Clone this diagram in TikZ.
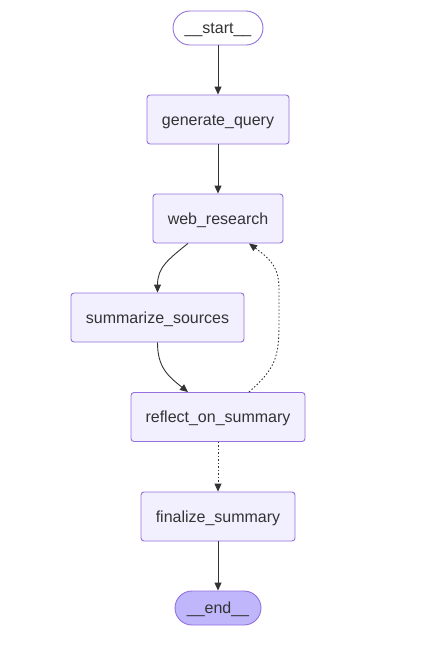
\documentclass[tikz,border=0pt]{standalone}
\usepackage{fontspec}
\setmainfont{Liberation Sans}
\usetikzlibrary{arrows.meta,calc}
\definecolor{nodefill}{HTML}{F2F0FF}
\definecolor{nodeline}{HTML}{9370DB}
\definecolor{endfill}{HTML}{BFB6FC}
\definecolor{txt}{HTML}{333333}
\tikzset{
  box/.style={draw=nodeline, fill=nodefill, line width=0.9pt, rounded corners=3pt,
    minimum height=49pt, text=txt, font=\fontsize{16}{19}\selectfont, inner sep=0pt,
    text height=12pt, text depth=1pt},
  term/.style={draw=nodeline, line width=0.9pt, rounded corners=17pt,
    minimum height=34pt, text=txt, font=\fontsize{16}{19}\selectfont, inner sep=0pt,
    text height=12pt, text depth=1pt},
  edge/.style={draw=txt, line width=0.9pt, -{Triangle[length=8pt,width=7pt]}},
  dotedge/.style={edge, dash pattern=on 1.5pt off 2pt}
}
\begin{document}
\begin{tikzpicture}[x=1pt,y=-1pt]
\useasboundingbox (0,0) rectangle (428,646);
\node[term, fill=white, minimum width=90pt] (start) at (218,28) {\_\_start\_\_};
\node[box, minimum width=142pt] (gq) at (218,119.5) {generate\_query};
\node[box, minimum width=130pt] (web) at (218,218.5) {web\_research};
\node[box, minimum width=173pt] (sum) at (157.5,317.5) {summarize\_sources};
\node[box, minimum width=174pt] (ref) at (218,417) {reflect\_on\_summary};
\node[box, minimum width=154pt] (fin) at (218,516.5) {finalize\_summary};
\node[term, fill=endfill, minimum width=86pt] (end) at (218,608) {\_\_end\_\_};

\draw[edge] (start) -- (gq);
\draw[edge] (gq) -- (web);
\draw[edge] ($(web.south)+(-30,0)$) .. controls ($(web.south)+(-50,16)$) and ($(sum.north)+(0,-25)$) .. (sum.north);
\draw[edge] (sum.south) .. controls ($(sum.south)+(0,25)$) and ($(ref.north)+(-50,-16)$) .. ($(ref.north)+(-30,0)$);
\draw[dotedge] ($(ref.north)+(31,0)$) .. controls ($(ref.north)+(58,-24)$) and ($(ref.north)+(61,-35)$) .. ($(ref.north)+(61,-70)$)
  -- ($(web.south)+(61,45)$) .. controls ($(web.south)+(61,22)$) and ($(web.south)+(50,14)$) .. ($(web.south)+(31,0)$);
\draw[dotedge] (ref) -- (fin);
\draw[edge] (fin) -- (end);
\end{tikzpicture}
\end{document}
